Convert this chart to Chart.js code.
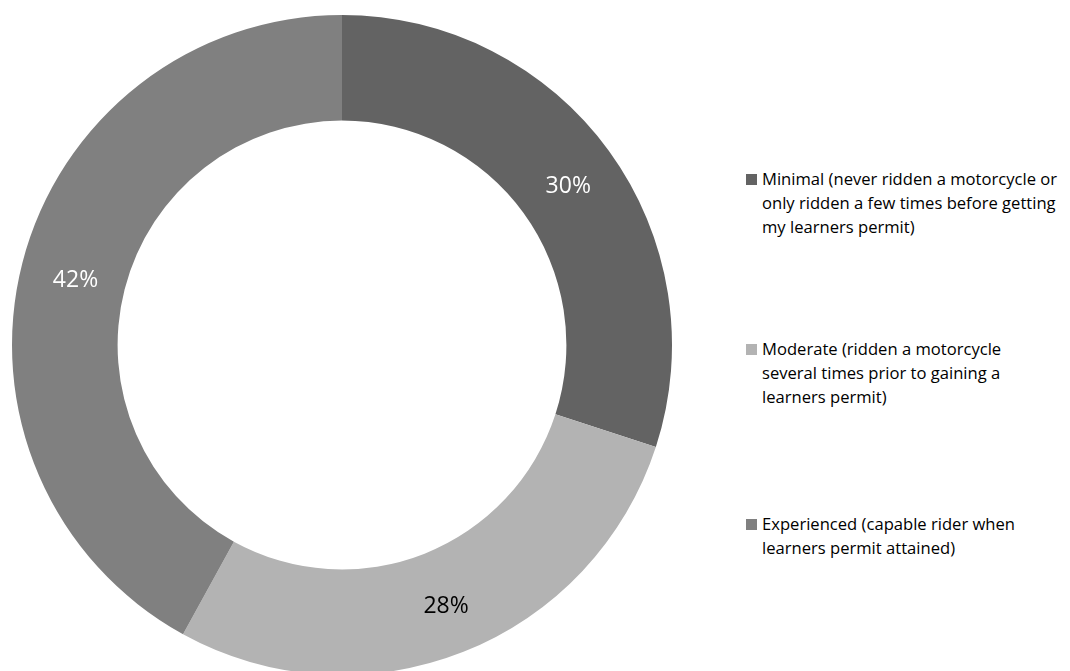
<!DOCTYPE html>
<html>
<head>
<meta charset="utf-8">
<script src="https://cdn.jsdelivr.net/npm/chart.js@4.4.1/dist/chart.umd.min.js"></script>
<style>
  html, body { margin: 0; padding: 0; width: 1070px; height: 671px; overflow: hidden; background: #ffffff; }
  #wrap { position: absolute; left: 0; top: 0; width: 684px; height: 690px; }
  #legend { position: absolute; left: 746px; top: 0; font-family: "Open Sans", sans-serif; font-size: 16.6px; color: #000; }
  .item { position: absolute; left: 0; white-space: nowrap; }
  .swatch { position: absolute; left: 0; width: 11px; height: 11px; }
  .lines { position: absolute; left: 16px; line-height: 24px; }
</style>
</head>
<body>
<div id="wrap"><canvas id="c" width="684" height="690"></canvas></div>
<div id="legend"></div>
<script>
// Riding experience before obtaining a learner's permit
const categories = ['Minimal', 'Moderate', 'Experienced'];
const legendLines = [
  ['Minimal (never ridden a motorcycle or', 'only ridden a few times before getting', 'my learners permit)'],
  ['Moderate (ridden a motorcycle', 'several times prior to gaining a', 'learners permit)'],
  ['Experienced (capable rider when', 'learners permit attained)']
];
const shares = [30, 28, 42];
const sliceColors = ['#636363', '#b3b3b3', '#808080'];
const labelColors = ['#ffffff', '#000000', '#ffffff'];
const legendTops = [167, 337, 512];

// Percentage labels drawn at the middle of each ring segment
const sliceLabels = {
  id: 'sliceLabels',
  afterDatasetsDraw(chart) {
    const ctx = chart.ctx;
    const meta = chart.getDatasetMeta(0);
    ctx.save();
    ctx.font = '23px "Open Sans", sans-serif';
    ctx.textAlign = 'center';
    ctx.textBaseline = 'middle';
    meta.data.forEach((arc, i) => {
      const p = arc.tooltipPosition();
      ctx.fillStyle = labelColors[i];
      ctx.fillText(shares[i] + '%', p.x + 2, p.y + 4);
    });
    ctx.restore();
  }
};

const chart = new Chart(document.getElementById('c'), {
  type: 'doughnut',
  data: {
    labels: categories,
    datasets: [{
      data: shares,
      backgroundColor: sliceColors,
      borderWidth: 0,
      hoverOffset: 0
    }]
  },
  options: {
    responsive: false,
    animation: false,
    cutout: '68%',
    layout: { padding: { left: 12, top: 15, right: 12, bottom: 15 } },
    plugins: {
      legend: { display: false },
      tooltip: { enabled: false }
    }
  },
  plugins: [sliceLabels]
});

// Legend with wrapped category descriptions
const legend = document.getElementById('legend');
categories.forEach((name, i) => {
  const item = document.createElement('div');
  item.className = 'item';
  item.style.top = legendTops[i] + 'px';
  const sw = document.createElement('div');
  sw.className = 'swatch';
  sw.style.top = '7px';
  sw.style.background = sliceColors[i];
  const txt = document.createElement('div');
  txt.className = 'lines';
  txt.style.top = '0px';
  txt.innerHTML = legendLines[i].map(s => '<div>' + s + '</div>').join('');
  item.appendChild(sw);
  item.appendChild(txt);
  legend.appendChild(item);
});
</script>
</body>
</html>
